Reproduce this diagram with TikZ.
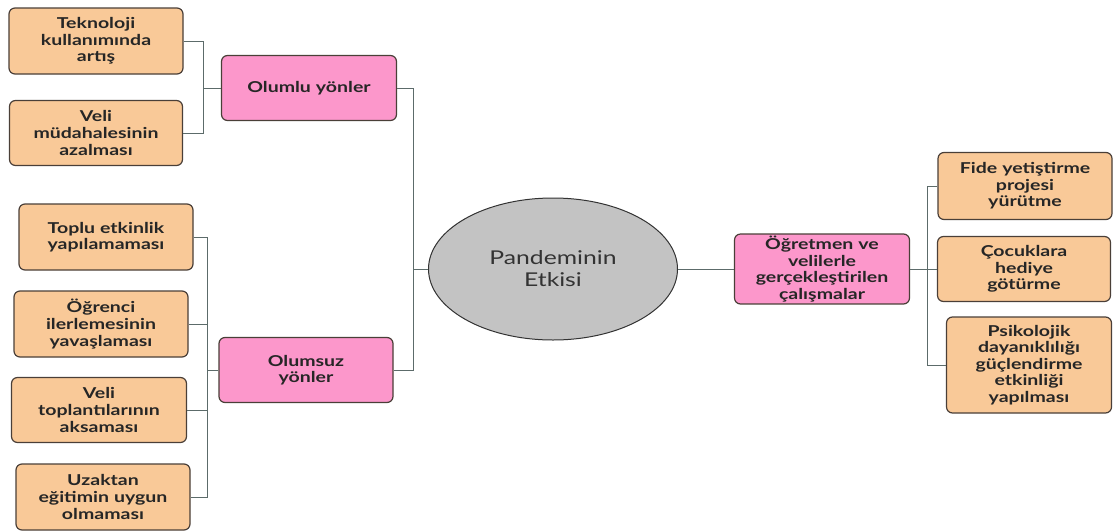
\documentclass[tikz,border=0pt]{standalone}
\usepackage{fontspec}
\setmainfont{Lato}[FakeStretch=1.3]
\usetikzlibrary{positioning,shapes.geometric}
\definecolor{peach}{HTML}{F9C998}
\definecolor{rosa}{HTML}{FC97CB}
\definecolor{grau}{HTML}{C3C3C3}
\definecolor{linie}{HTML}{5C6B6A}
\definecolor{rand}{HTML}{4A3F38}

\begin{document}
\begin{tikzpicture}[x=1pt, y=-1pt]
                            \tikzset{item/.style={draw=rand, line width=1.2pt, fill=peach, rounded corners=6pt, shape=rectangle, align=center, font=\fontsize{15}{16.6}\selectfont\bfseries, inner sep=2pt, text=black!85}}
                            \tikzset{branch/.style={item, fill=rosa}}
                            \tikzset{link/.style={draw=linie, line width=1pt}}
                            \useasboundingbox (0,0) rectangle (1113,530);
                            % middle
                            \node[draw=black!80, fill=grau, shape=ellipse, line width=1pt, minimum width=249pt, minimum height=142pt, font=\fontsize{19}{22}\selectfont, text=black!80, align=center] (core) at (553,269) {Pandeminin\\Etkisi};
                            % left branches
                            \node[branch, minimum width=175pt, minimum height=65pt, text width=165pt] (pos) at (309,88) {Olumlu yönler};
                            \node[branch, minimum width=174pt, minimum height=65pt, text width=165pt] (neg) at (306,370) {Olumsuz\\yönler};
                            \node[item, minimum width=174pt, minimum height=66pt, text width=165pt] (tek) at (96,41) {Teknoloji\\kullanımında\\artış};
                            \node[item, minimum width=173pt, minimum height=65pt, text width=165pt] (veli) at (96,133) {Veli\\müdahalesinin\\azalması};
                            \node[item, minimum width=174pt, minimum height=66pt, text width=165pt] (toplu) at (106,237) {Toplu etkinlik\\yapılamaması};
                            \node[item, minimum width=174pt, minimum height=66pt, text width=165pt] (ogr) at (101,324) {Öğrenci\\ilerlemesinin\\yavaşlaması};
                            \node[item, minimum width=175pt, minimum height=65pt, text width=165pt] (top) at (99,410) {Veli\\toplantılarının\\aksaması};
                            \node[item, minimum width=174pt, minimum height=66pt, text width=165pt] (uzak) at (103,497) {Uzaktan\\eğitimin uygun\\olmaması};
                            % right branch
                            \node[branch, minimum width=175pt, minimum height=65pt, text width=168pt] (calis) at (822,269) {Öğretmen ve\\velilerle\\gerçekleştirilen\\çalışmalar};
                            \node[item, minimum width=174pt, minimum height=67pt, text width=165pt] (fide) at (1025,186) {Fide yetiştirme\\projesi\\yürütme};
                            \node[item, minimum width=173pt, minimum height=65pt, text width=165pt] (hed) at (1024,269) {Çocuklara\\hediye\\götürme};
                            \node[item, minimum width=165pt, minimum height=96pt, text width=158pt] (psi) at (1029,365) {Psikolojik\\dayanıklılığı\\güçlendirme\\etkinliği\\yapılması};
                            \coordinate (lb) at (413,0);
                            \coordinate (ub) at (203,0);
                            \coordinate (nb) at (207,0);
                            \coordinate (rb) at (927,0);
                            \draw[link] (pos.east) -| (lb |- neg) -- (neg.east);
                            \draw[link] (core.west) -- (lb |- core);
                            \draw[link] (tek.east) -| (ub |- veli) -- (veli.east);
                            \draw[link] (pos.west) -- (ub |- pos);
                            \draw[link] (toplu.east) -| (nb |- uzak) -- (uzak.east);
                            \draw[link] (ogr.east) -- (nb |- ogr);
                            \draw[link] (top.east) -- (nb |- top);
                            \draw[link] (neg.west) -- (nb |- neg);
                            \draw[link] (core.east) -- (calis.west);
                            \draw[link] (fide.west) -| (rb |- psi) -- (psi.west);
                            \draw[link] (calis.east) -- (hed.west);
                        \end{tikzpicture}
\end{document}
